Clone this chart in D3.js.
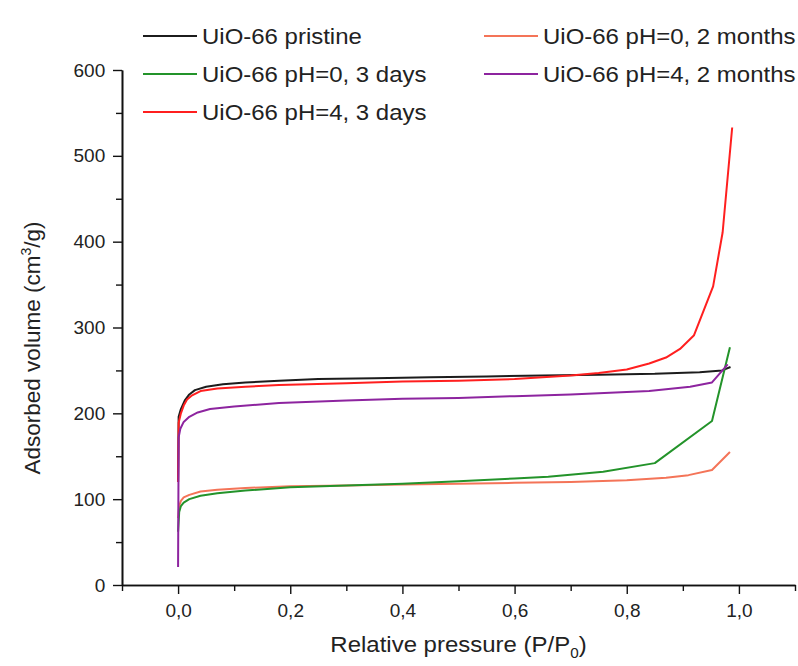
<!DOCTYPE html>
<html>
<head>
<meta charset="utf-8">
<script src="https://cdn.jsdelivr.net/npm/d3@7"></script>
<style>
  html, body { margin: 0; padding: 0; background: #fff; }
  svg { display: block; font-family: "Liberation Sans", Arial, sans-serif; }
</style>
</head>
<body>
<svg id="chart" width="798" height="666"></svg>
<script>
// N2 adsorption isotherms of UiO-66 samples (relative pressure vs adsorbed volume)
const pristineP = [0, 0.001, 0.005, 0.012, 0.02, 0.03, 0.05, 0.08, 0.12, 0.18, 0.25, 0.35, 0.45, 0.55, 0.65, 0.75, 0.85, 0.93, 0.97, 0.985];
const pristineV = [120, 196, 205, 215, 222, 227, 231, 234, 236, 238, 240, 241, 242, 243, 244, 245, 246, 248, 250, 254];

const pH0d3P = [0, 0.002, 0.005, 0.01, 0.02, 0.04, 0.07, 0.12, 0.2, 0.3, 0.4, 0.5, 0.6, 0.66, 0.758, 0.85, 0.952, 0.984];
const pH0d3V = [62, 85, 92, 96, 100, 104, 107, 110, 114, 116, 118, 121, 124, 126, 132, 142, 191, 277];

const pH4d3P = [0, 0.001, 0.005, 0.01, 0.016, 0.025, 0.04, 0.07, 0.12, 0.18, 0.3, 0.4, 0.5, 0.6, 0.7, 0.75, 0.8, 0.84, 0.87, 0.895, 0.92, 0.954, 0.971, 0.988];
const pH4d3V = [120, 189, 200, 209, 216, 221, 226, 229, 231, 233, 235, 237, 238, 240, 244, 247, 251, 258, 265, 275, 291, 348, 411, 533];

const pH0m2P = [0, 0.002, 0.005, 0.01, 0.02, 0.04, 0.07, 0.12, 0.2, 0.3, 0.4, 0.5, 0.6, 0.7, 0.8, 0.87, 0.91, 0.952, 0.984];
const pH0m2V = [78, 92, 98, 102, 105, 109, 111, 113, 115, 116, 117, 118, 119, 120, 122, 125, 128, 134, 155];

const pH4m2P = [0, 0.001, 0.004, 0.01, 0.02, 0.035, 0.057, 0.1, 0.18, 0.3, 0.4, 0.5, 0.6, 0.7, 0.84, 0.913, 0.952, 0.98];
const pH4m2V = [21, 172, 182, 190, 196, 201, 205, 208, 212, 215, 217, 218, 220, 222, 226, 231, 236, 257];

const seriesNames = ["UiO-66 pristine", "UiO-66 pH=0, 3 days", "UiO-66 pH=4, 3 days", "UiO-66 pH=0, 2 months", "UiO-66 pH=4, 2 months"];
const seriesColors = ["#1c1c1c", "#23932a", "#ff1f1f", "#f47458", "#8d249f"];
const seriesP = [pristineP, pH0d3P, pH4d3P, pH0m2P, pH4m2P];
const seriesV = [pristineV, pH0d3V, pH4d3V, pH0m2V, pH4m2V];

const xMajorTicks = [0, 0.2, 0.4, 0.6, 0.8, 1.0];
const xMinorTicks = [-0.1, 0.1, 0.3, 0.5, 0.7, 0.9, 1.1];
const yMajorTicks = [0, 100, 200, 300, 400, 500, 600];
const yMinorTicks = [50, 150, 250, 350, 450, 550];

const svg = d3.select("#chart");
const plot = { left: 122, right: 795, top: 70, bottom: 585 };
const textStretch = 1.09; // text is set slightly wide

const x = d3.scaleLinear().domain([-0.1, 1.1]).range([plot.left, plot.right]);
const y = d3.scaleLinear().domain([0, 600]).range([plot.bottom, plot.top]);

const fmtComma = d => d3.format(".1f")(d).replace(".", ",");

// X axis: major ticks with labels, minor ticks without
const gx = svg.append("g").attr("transform", `translate(0,${plot.bottom})`);
gx.call(d3.axisBottom(x).tickValues(xMajorTicks).tickSize(9).tickSizeOuter(0).tickFormat(fmtComma));
const gxm = svg.append("g").attr("transform", `translate(0,${plot.bottom})`);
gxm.call(d3.axisBottom(x).tickValues(xMinorTicks).tickSize(6).tickSizeOuter(0).tickFormat(""));

// Y axis
const gy = svg.append("g").attr("transform", `translate(${plot.left},0)`);
gy.call(d3.axisLeft(y).tickValues(yMajorTicks).tickSize(9).tickSizeOuter(0).tickFormat(d3.format("d")));
const gym = svg.append("g").attr("transform", `translate(${plot.left},0)`);
gym.call(d3.axisLeft(y).tickValues(yMinorTicks).tickSize(6).tickSizeOuter(0).tickFormat(""));

[gx, gxm, gy, gym].forEach(g => {
  g.selectAll(".domain").attr("stroke", "#111").attr("stroke-width", 1.6);
  g.selectAll(".tick line").attr("stroke", "#111").attr("stroke-width", 1.4);
  g.selectAll(".tick text").attr("fill", "#222").attr("font-size", 19)
    .attr("font-family", "'Liberation Sans', Arial, sans-serif");
});
gx.selectAll(".tick text").attr("dy", "1.05em");
gy.selectAll(".tick text").attr("dx", "-0.25em");

// Isotherm lines
const line = d3.line().x(d => x(d[0])).y(d => y(d[1]));
const drawOrder = [0, 3, 2, 1, 4];
drawOrder.forEach(i => {
  const pts = seriesP[i].map((p, k) => [p, seriesV[i][k]]);
  svg.append("path")
    .datum(pts)
    .attr("d", line)
    .attr("fill", "none")
    .attr("stroke", seriesColors[i])
    .attr("stroke-width", 2)
    .attr("stroke-linejoin", "round");
});

// Legend (two columns)
const legendPos = [
  { lx: 143, ty: 36 }, { lx: 143, ty: 74 }, { lx: 143, ty: 112 },
  { lx: 484, ty: 36 }, { lx: 484, ty: 74 }
];
seriesNames.forEach((name, i) => {
  const p = legendPos[i];
  const g = svg.append("g");
  g.append("line")
    .attr("x1", p.lx).attr("x2", p.lx + 54)
    .attr("y1", p.ty).attr("y2", p.ty)
    .attr("stroke", seriesColors[i]).attr("stroke-width", 2);
  g.append("text")
    .attr("transform", `translate(${p.lx + 59},${p.ty}) scale(${textStretch},1)`)
    .attr("dy", "0.35em")
    .attr("font-size", 22)
    .attr("fill", "#222")
    .text(name);
});

// Axis titles
const xt = svg.append("text")
  .attr("transform", `translate(${(plot.left + plot.right) / 2},652) scale(${textStretch},1)`)
  .attr("text-anchor", "middle")
  .attr("font-size", 22)
  .attr("fill", "#222");
xt.append("tspan").text("Relative pressure (P/P");
xt.append("tspan").attr("font-size", 14).attr("dy", 6).text("0");
xt.append("tspan").attr("dy", -6).text(")");

const yt = svg.append("text")
  .attr("transform", `translate(40,348) rotate(-90)`)
  .attr("text-anchor", "middle")
  .attr("font-size", 22.5)
  .attr("fill", "#222");
yt.append("tspan").text("Adsorbed volume (cm");
yt.append("tspan").attr("font-size", 14).attr("dy", -9).text("3");
yt.append("tspan").attr("dy", 9).text("/g)");
</script>
</body>
</html>
